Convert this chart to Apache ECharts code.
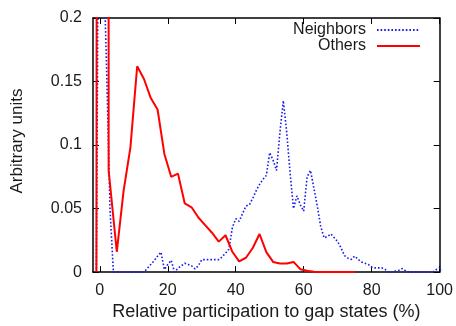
<!DOCTYPE html>
<html>
<head>
<meta charset="utf-8">
<script src="https://cdn.jsdelivr.net/npm/echarts@6/dist/echarts.min.js"></script>
<style>
    html, body { margin: 0; padding: 0; background: #fff; }
    #chart { width: 456px; height: 326px; }
</style>
</head>
<body>
<div id="chart"></div>
<script>
// x ticks / labels
var xTicks = [0, 20, 40, 60, 80, 100];

// Neighbors: one value per 1% bin, starting at -1
var neighborsStart = -1;
var neighborsY = [
    0, 0.5, 0.26, 0.16, 0.05, 0, 0, 0, 0, 0,               // -1 .. 8
    0, 0, 0, 0, 0, 0.003, 0.006, 0.009, 0.0125, 0.0157,   // 9 .. 18
    0.002, 0.006, 0.0093, 0, 0.003, 0.005, 0.007, 0.006, 0.005, 0.0025, // 19 .. 28
    0.005, 0.0098, 0.0098, 0.0098, 0.0098, 0.0098, 0.0098, 0.012, 0.015, 0.018, // 29 .. 38
    0.035, 0.042, 0.040, 0.046, 0.052, 0.053, 0.058, 0.064, 0.069, 0.073, // 39 .. 48
    0.076, 0.094, 0.088, 0.080, 0.110, 0.135, 0.110, 0.078, 0.050, 0.060, // 49 .. 58
    0.053, 0.048, 0.075, 0.080, 0.066, 0.052, 0.036, 0.027, 0.028, 0.030, // 59 .. 68
    0.027, 0.024, 0.019, 0.013, 0.011, 0.010, 0.0126, 0.010, 0.008, 0.007, // 69 .. 78
    0.006, 0.004, 0.0033, 0.0033, 0.0033, 0.002, 0, 0, 0.0008, 0.0015, // 79 .. 88
    0.0028, 0.001, 0, 0, 0, 0, 0, 0, 0, 0,                 // 89 .. 98
    0.002, 0.0033, 0.0015                                  // 99 .. 100 (+1)
];

// Others: 2% bins (first points are the spike near 0, clipped at the top)
var othersX = [-1, -0.8, 2.6, 2.6, 5, 7, 9, 11, 13, 15, 17, 19, 21, 23, 25, 27, 29, 31, 33, 35,
    37, 39, 41, 43, 45, 47, 49, 51, 53, 55, 57, 59, 61, 63, 65, 67, 69, 71, 73, 75];
var othersY = [0, 0.6, 0.6, 0.08, 0.016, 0.064, 0.098, 0.162, 0.152, 0.137, 0.128, 0.093, 0.075, 0.0775,
    0.054, 0.051, 0.043, 0.037, 0.031, 0.024, 0.029, 0.016, 0.0085, 0.0113, 0.019, 0.030, 0.0157,
    0.008, 0.0067, 0.0067, 0.008, 0.0023, 0.001, 0.0003, 0, 0, 0, 0, 0, 0];

var neighborsData = neighborsY.map(function (v, i) { return [neighborsStart + i, v]; });
var othersData = othersX.map(function (x, i) { return [x, othersY[i]]; });

var chart = echarts.init(document.getElementById('chart'));
var font = 'Liberation Sans, Arial, sans-serif';

var axisLine = { show: true, onZero: false, lineStyle: { color: '#000', width: 1.5 } };
var tick = { show: true, inside: true, length: 6, lineStyle: { color: '#000', width: 1 } };

chart.setOption({
    animation: false,
    grid: { left: 93, right: 16, top: 18, bottom: 49 },
    legend: {
        orient: 'vertical',
        right: 35,
        top: 22,
        padding: 0,
        align: 'right',
        itemWidth: 43,
        itemHeight: 16,
        itemGap: 0,
        itemStyle: { opacity: 0 },
        textStyle: { fontFamily: font, fontSize: 16, lineHeight: 16, color: '#1a1a1a', padding: [0, 6, 0, 0] },
        data: ['Neighbors', 'Others']
    },
    xAxis: [{
        type: 'value',
        min: -2,
        max: 100,
        name: 'Relative participation to gap states (%)',
        nameLocation: 'middle',
        nameGap: 24,
        nameTextStyle: { fontFamily: font, fontSize: 18, color: '#1a1a1a' },
        axisLine: axisLine,
        axisTick: Object.assign({ customValues: xTicks }, tick),
        axisLabel: { customValues: xTicks, margin: 10, fontFamily: font, fontSize: 16, color: '#1a1a1a' },
        splitLine: { show: false }
    }, {
        type: 'value',
        position: 'top',
        min: -2,
        max: 100,
        axisLine: axisLine,
        axisTick: Object.assign({ customValues: xTicks }, tick),
        axisLabel: { show: false },
        splitLine: { show: false }
    }],
    yAxis: [{
        type: 'value',
        min: 0,
        max: 0.2,
        interval: 0.05,
        name: 'Arbitrary units',
        nameLocation: 'middle',
        nameGap: 67,
        nameTextStyle: { fontFamily: font, fontSize: 17, color: '#1a1a1a', padding: [0, 0, 0, 8] },
        axisLine: axisLine,
        axisTick: tick,
        axisLabel: { margin: 11, fontFamily: font, fontSize: 16, color: '#1a1a1a' },
        splitLine: { show: false }
    }, {
        type: 'value',
        position: 'right',
        min: 0,
        max: 0.2,
        interval: 0.05,
        axisLine: axisLine,
        axisTick: tick,
        axisLabel: { show: false },
        splitLine: { show: false }
    }],
    series: [{
        name: 'Neighbors',
        type: 'line',
        data: neighborsData,
        symbol: 'none',
        clip: true,
        lineStyle: { color: '#1a1aee', width: 1.6, type: [1.6, 2] },
        itemStyle: { color: '#1a1aee' }
    }, {
        name: 'Others',
        type: 'line',
        data: othersData,
        symbol: 'none',
        clip: true,
        lineStyle: { color: '#ff0000', width: 2 },
        itemStyle: { color: '#ff0000' }
    }]
});
</script>
</body>
</html>
